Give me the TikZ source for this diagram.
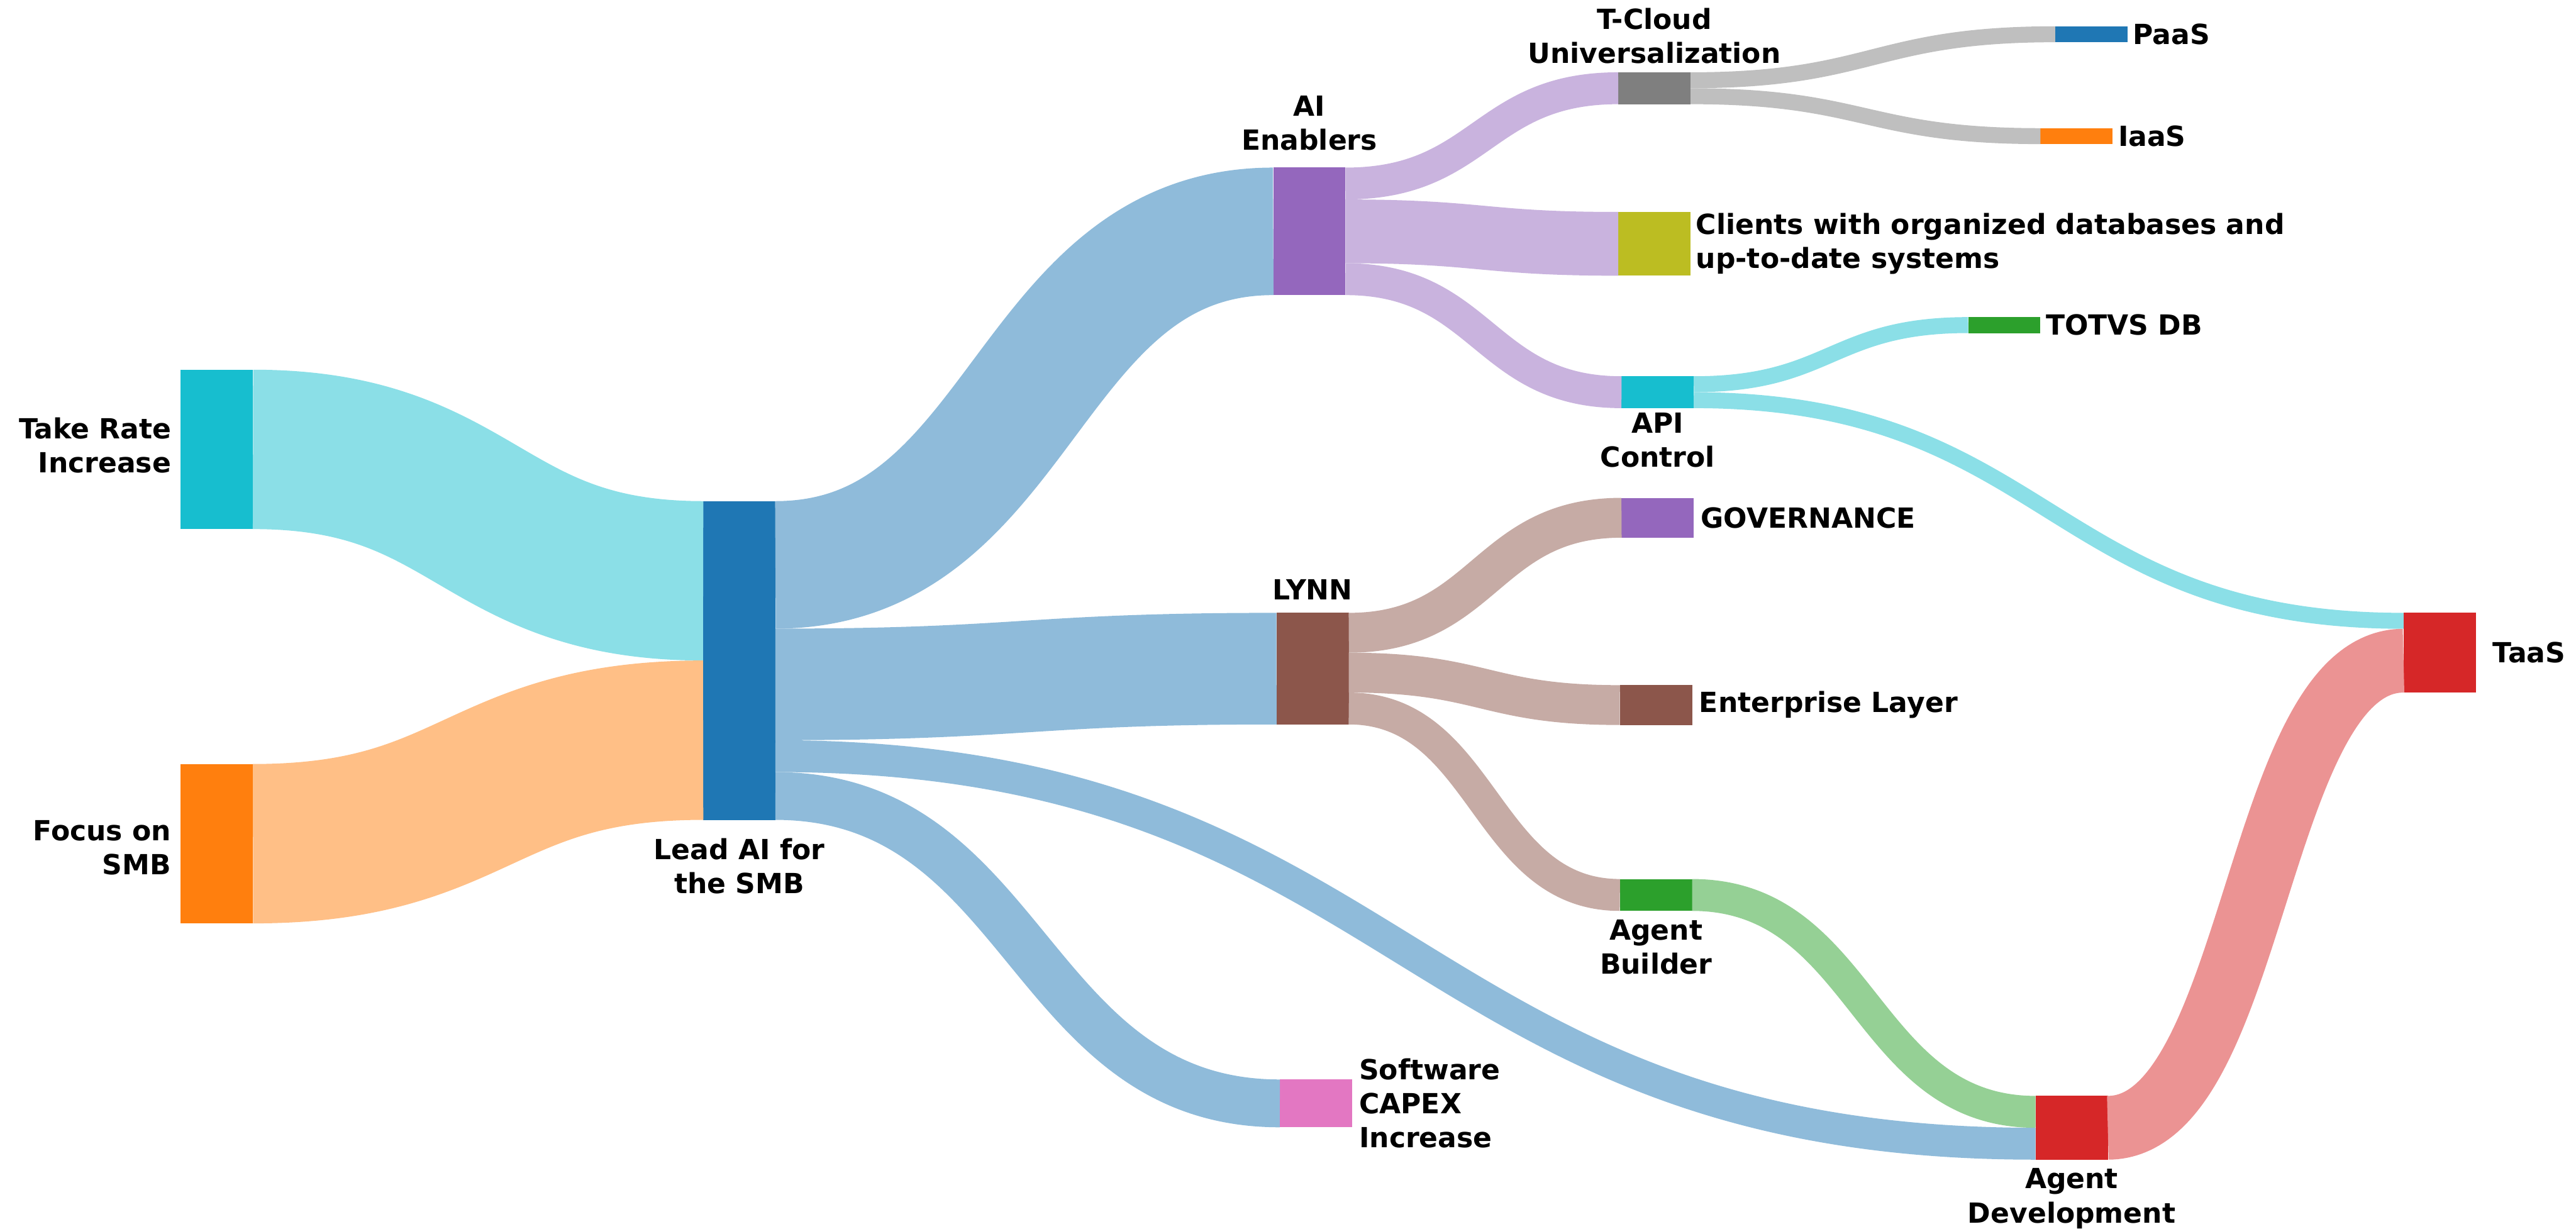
\documentclass[tikz,border=0pt]{standalone}
\usepackage{fontspec}
\setmainfont{DejaVu Sans}
\usetikzlibrary{calc, positioning}

% category colours
\definecolor{tblue}{HTML}{1F77B4}
\definecolor{torange}{HTML}{FF7F0E}
\definecolor{tgreen}{HTML}{2CA02C}
\definecolor{tred}{HTML}{D62728}
\definecolor{tpurple}{HTML}{9467BD}
\definecolor{tbrown}{HTML}{8C564B}
\definecolor{tpink}{HTML}{E377C2}
\definecolor{tgray}{HTML}{7F7F7F}
\definecolor{tolive}{HTML}{BCBD22}
\definecolor{tcyan}{HTML}{17BECF}

\tikzset{
  block/.style={rectangle, inner sep=0pt, outer sep=0pt, anchor=north west,
    minimum width=0.88cm, minimum height=#1*0.02cm},
  lbl/.style={font=\bfseries\fontsize{9.6}{11.8}\selectfont, inner sep=0pt}
}

% band from #1 (centre #2 below its top) to #3 (centre #4 below its top),
% thickness #5, colour #6
\newcommand{\flow}[6]{%
  \coordinate (p) at ($(#1.north east)+(0,#2)$);
  \coordinate (q) at ($(#3.north west)+(0,#4)$);
  \coordinate (mx) at ($(p)!.5!(q)$);
  \draw[#6, line width=#5*0.02cm] (p) .. controls (mx |- p) and (mx |- q) .. (q);
}

\begin{document}
\begin{tikzpicture}[x=0.02cm, y=-0.02cm]
    \useasboundingbox (0,0) rectangle (1568,748);

    % Define nodes
    \node[block=97, fill=tcyan] (take) at (110,225) {};
    \node[block=97, fill=torange] (focus) at (110,465) {};
    \node[block=194, fill=tblue] (lead) at (428,305) {};
    \node[block=77.6, fill=tpurple] (aien) at (775,102) {};
    \node[block=67.9, fill=tbrown] (lynn) at (777,373) {};
    \node[block=29.1, fill=tpink] (capex) at (779,657) {};
    \node[block=19.4, fill=tgray] (tcloud) at (985,44) {};
    \node[block=38.8, fill=tolive] (clients) at (985,129) {};
    \node[block=19.4, fill=tcyan] (api) at (987,229) {};
    \node[block=24.25, fill=tpurple] (gov) at (987,303) {};
    \node[block=24.25, fill=tbrown] (ent) at (986,417) {};
    \node[block=19.4, fill=tgreen] (builder) at (986,535) {};
    \node[block=9.7, fill=tblue] (paas) at (1251,16) {};
    \node[block=9.7, fill=torange] (iaas) at (1242,78) {};
    \node[block=9.7, fill=tgreen] (totvs) at (1198,193) {};
    \node[block=38.8, fill=tred] (agentdev) at (1239,667) {};
    \node[block=48.5, fill=tred] (taas) at (1463,373) {};

    % Draw flows
    \flow{take}{48.5}{lead}{48.5}{97}{tcyan!50!white}
    \flow{focus}{48.5}{lead}{145.5}{97}{torange!50!white}
    \flow{lead}{38.8}{aien}{38.8}{77.6}{tblue!50!white}
    \flow{lead}{111.55}{lynn}{33.95}{67.9}{tblue!50!white}
    \flow{lead}{155.2}{agentdev}{29.1}{19.4}{tblue!50!white}
    \flow{lead}{179.45}{capex}{14.55}{29.1}{tblue!50!white}
    \flow{aien}{9.7}{tcloud}{9.7}{19.4}{tpurple!50!white}
    \flow{aien}{38.8}{clients}{19.4}{38.8}{tpurple!50!white}
    \flow{aien}{67.9}{api}{9.7}{19.4}{tpurple!50!white}
    \flow{tcloud}{4.85}{paas}{4.85}{9.7}{tgray!50!white}
    \flow{tcloud}{14.55}{iaas}{4.85}{9.7}{tgray!50!white}
    \flow{api}{4.85}{totvs}{4.85}{9.7}{tcyan!50!white}
    \flow{api}{14.55}{taas}{4.85}{9.7}{tcyan!50!white}
    \flow{lynn}{12.125}{gov}{12.125}{24.25}{tbrown!50!white}
    \flow{lynn}{36.375}{ent}{12.125}{24.25}{tbrown!50!white}
    \flow{lynn}{58.2}{builder}{9.7}{19.4}{tbrown!50!white}
    \flow{builder}{9.7}{agentdev}{9.7}{19.4}{tgreen!50!white}
    \flow{agentdev}{19.4}{taas}{29.1}{38.8}{tred!50!white}

    % Labels
    \node[lbl, align=right, left=0.11cm of take, yshift=0.05cm] (take-lbl) {Take Rate\\Increase};
    \node[lbl, align=right, left=0.11cm of focus, yshift=-0.05cm] (focus-lbl) {Focus on\\SMB};
    \node[lbl, align=center, below=0.22cm of lead] (lead-lbl) {Lead AI for\\the SMB};
    \node[lbl, align=center, above=0.2cm of aien] (aien-lbl) {AI\\Enablers};
    \node[lbl, above=0.15cm of lynn] (lynn-lbl) {LYNN};
    \node[lbl, align=left, right=0.08cm of capex] (capex-lbl) {Software\\CAPEX\\Increase};
    \node[lbl, align=center, above=0.1cm of tcloud] (tcloud-lbl) {T-Cloud\\Universalization};
    \node[lbl, align=left, right=0.06cm of clients] (clients-lbl) {Clients with organized databases and\\up-to-date systems};
    \node[lbl, align=center, below=0.05cm of api] (api-lbl) {API\\Control};
    \node[lbl, right=0.08cm of gov] (gov-lbl) {GOVERNANCE};
    \node[lbl, right=0.08cm of ent] (ent-lbl) {Enterprise Layer};
    \node[lbl, align=center, below=0.1cm of builder] (builder-lbl) {Agent\\Builder};
    \node[lbl, right=0.06cm of paas] (paas-lbl) {PaaS};
    \node[lbl, right=0.06cm of iaas] (iaas-lbl) {IaaS};
    \node[lbl, right=0.06cm of totvs] (totvs-lbl) {TOTVS DB};
    \node[lbl, align=center, below=0.1cm of agentdev] (agentdev-lbl) {Agent\\Development};
    \node[lbl, right=0.2cm of taas] (taas-lbl) {TaaS};
\end{tikzpicture}
\end{document}
